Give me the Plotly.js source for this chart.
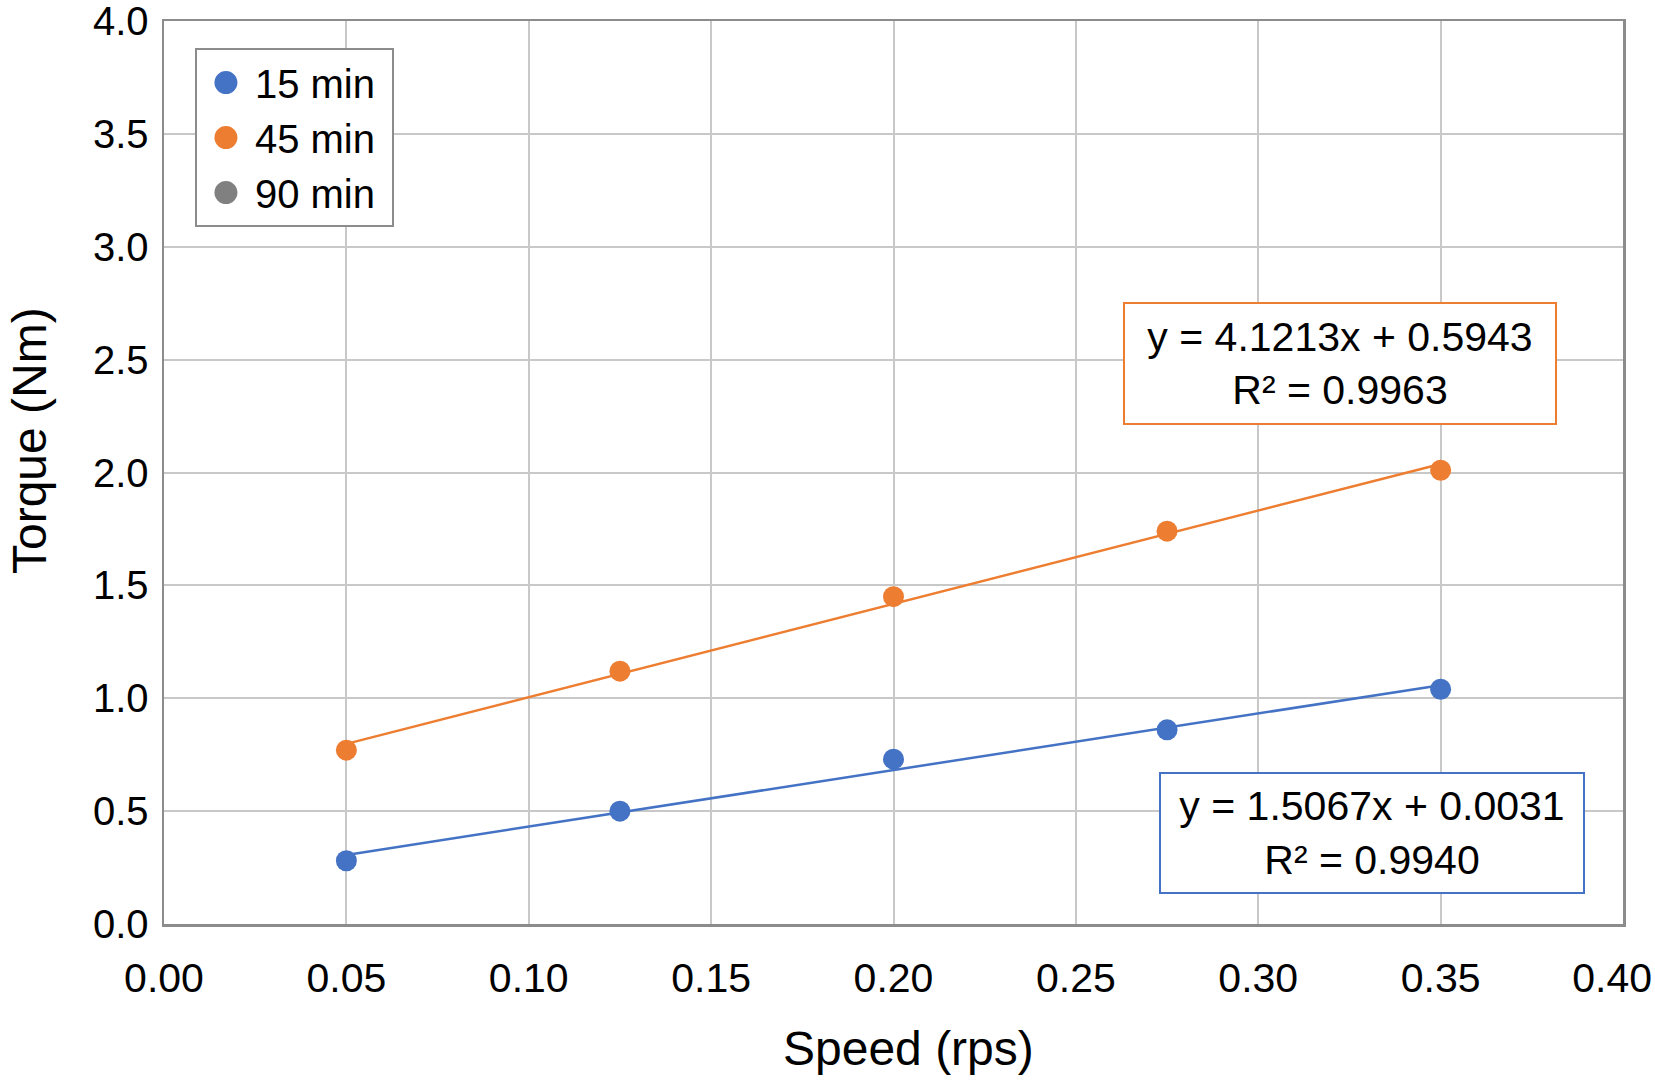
<!DOCTYPE html>
<html>
<head>
<meta charset="utf-8">
<script src="https://cdn.plot.ly/plotly-3.0.1.min.js"></script>
<style>
  html, body { margin: 0; padding: 0; background: #ffffff; }
  #chart { width: 1655px; height: 1088px; }
</style>
</head>
<body>
<div id="chart"></div>
<script>
// ---- Data ----
const seriesNames = ["15 min", "45 min", "90 min"];
const speed15 = [0.05, 0.125, 0.20, 0.275, 0.35];
const torque15 = [0.28, 0.50, 0.73, 0.86, 1.04];
const speed45 = [0.05, 0.125, 0.20, 0.275, 0.35];
const torque45 = [0.77, 1.12, 1.45, 1.74, 2.01];
const speed90 = [null];
const torque90 = [null];
const xTickVals = [0, 0.05, 0.10, 0.15, 0.20, 0.25, 0.30, 0.35, 0.40];
const xTickText = ["0.00", "0.05", "0.10", "0.15", "0.20", "0.25", "0.30", "0.35", "0.40"];
const yTickVals = [0, 0.5, 1.0, 1.5, 2.0, 2.5, 3.0, 3.5, 4.0];
const yTickText = ["0.0", "0.5", "1.0", "1.5", "2.0", "2.5", "3.0", "3.5", "4.0"];
const xTitle = "Speed (rps)";
const yTitle = "Torque (Nm)";
const equation15 = "y = 1.5067x + 0.0031<br>R² = 0.9940";
const equation45 = "y = 4.1213x + 0.5943<br>R² = 0.9963";

const colors = ["#4472C4", "#ED7D31", "#808080"];
const FONT = "Liberation Sans, Arial, Helvetica, sans-serif";
const NBSP = "\u00A0";

// least-squares trendline over the data range (as the spreadsheet does)
function fit(xs, ys) {
  const n = xs.length;
  const mx = xs.reduce((a, b) => a + b, 0) / n;
  const my = ys.reduce((a, b) => a + b, 0) / n;
  let sxy = 0, sxx = 0;
  for (let i = 0; i < n; i++) { sxy += (xs[i] - mx) * (ys[i] - my); sxx += (xs[i] - mx) ** 2; }
  const m = sxy / sxx, b = my - m * mx;
  const x0 = Math.min(...xs), x1 = Math.max(...xs);
  return { x: [x0, x1], y: [m * x0 + b, m * x1 + b] };
}
const fit15 = fit(speed15, torque15);
const fit45 = fit(speed45, torque45);

const traces = [
  { x: fit15.x, y: fit15.y, mode: "lines", line: { color: colors[0], width: 2.5 },
    showlegend: false, hoverinfo: "skip" },
  { x: fit45.x, y: fit45.y, mode: "lines", line: { color: colors[1], width: 2.5 },
    showlegend: false, hoverinfo: "skip" },
  { x: speed15, y: torque15, name: seriesNames[0] + NBSP, mode: "markers", legendgroup: "a",
    marker: { color: colors[0], size: 21 } },
  { x: speed45, y: torque45, name: seriesNames[1] + NBSP, mode: "markers", legendgroup: "b",
    marker: { color: colors[1], size: 21 } },
  { x: speed90, y: torque90, name: seriesNames[2] + NBSP, mode: "markers", legendgroup: "c",
    marker: { color: colors[2], size: 21 }, showlegend: true }
];

const layout = {
  width: 1655, height: 1088,
  margin: { l: 164, r: 32, t: 21, b: 164, pad: 0 },
  paper_bgcolor: "#ffffff", plot_bgcolor: "#ffffff",
  font: { family: FONT, color: "#000000", size: 41 },
  showlegend: true,
  legend: {
    x: 0.0212, y: 0.9700, xanchor: "left", yanchor: "top",
    bgcolor: "#ffffff", bordercolor: "#8c8c8c", borderwidth: 2,
    font: { family: FONT, size: 40, color: "#000000" },
    tracegroupgap: 1, traceorder: "normal", itemwidth: 48
  },
  xaxis: {
    range: [0, 0.4], tickmode: "array", tickvals: xTickVals, ticktext: xTickText,
    showgrid: true, gridcolor: "#c8c8c8", gridwidth: 2,
    showline: true, linecolor: "#8c8c8c", linewidth: 2.5, mirror: true,
    zeroline: false, ticklabeloverflow: "allow",
    ticks: "outside", ticklen: 16, tickcolor: "rgba(0,0,0,0)",
    tickfont: { family: FONT, size: 41, color: "#000000" },
    automargin: false
  },
  yaxis: {
    range: [0, 4], tickmode: "array", tickvals: yTickVals, ticktext: yTickText,
    showgrid: true, gridcolor: "#c8c8c8", gridwidth: 2,
    showline: true, linecolor: "#8c8c8c", linewidth: 2.5, mirror: true,
    zeroline: false, ticklabeloverflow: "allow",
    ticks: "outside", ticklen: 5, tickcolor: "rgba(0,0,0,0)",
    tickfont: { family: FONT, size: 40, color: "#000000" },
    automargin: false
  },
  annotations: [
    // axis titles
    { x: 0.5106, y: -0.1384, xref: "paper", yref: "paper", text: xTitle, showarrow: false,
      xanchor: "center", yanchor: "middle",
      font: { family: FONT, size: 48, color: "#000000" } },
    { x: -0.0918, y: 0.5349, xref: "paper", yref: "paper", text: yTitle, showarrow: false,
      xanchor: "center", yanchor: "middle", textangle: -90,
      font: { family: FONT, size: 48, color: "#000000" } },
    // trendline equations
    { x: 0.3224, y: 2.483, xref: "x", yref: "y", text: equation45, showarrow: false,
      font: { family: FONT, size: 41, color: "#000000" }, align: "center",
      bgcolor: "#ffffff", bordercolor: colors[1], borderwidth: 2, borderpad: 0,
      width: 430, height: 119, valign: "middle" },
    { x: 0.3312, y: 0.403, xref: "x", yref: "y", text: equation15, showarrow: false,
      font: { family: FONT, size: 41, color: "#000000" }, align: "center",
      bgcolor: "#ffffff", bordercolor: colors[0], borderwidth: 2, borderpad: 0,
      width: 422, height: 118, valign: "middle" }
  ]
};

Plotly.newPlot("chart", traces, layout, { displayModeBar: false, staticPlot: true }).then(function () {
  // enlarge legend symbols to match the reference (Plotly caps legend marker size)
  document.querySelectorAll("#chart .legend .legendpoints path.scatterpts").forEach(function (p) {
    const bb = p.getBBox();
    if (bb.width > 0) {
      const s = 23 / bb.width;
      const t = p.getAttribute("transform") || "";
      p.setAttribute("transform", t + " scale(" + s.toFixed(3) + ")");
    }
  });
  // keep the last x label inside the page edge, as in the reference
  const xt = document.querySelectorAll("#chart .xaxislayer-above .xtick text");
  if (xt.length) {
    const last = xt[xt.length - 1];
    const bb = last.getBoundingClientRect();
    const over = bb.right - 1652;
    if (over > 0) {
      const t = last.getAttribute("transform") || "";
      last.setAttribute("transform", "translate(" + (-over).toFixed(1) + ",0) " + t);
    }
  }
});
</script>
</body>
</html>
